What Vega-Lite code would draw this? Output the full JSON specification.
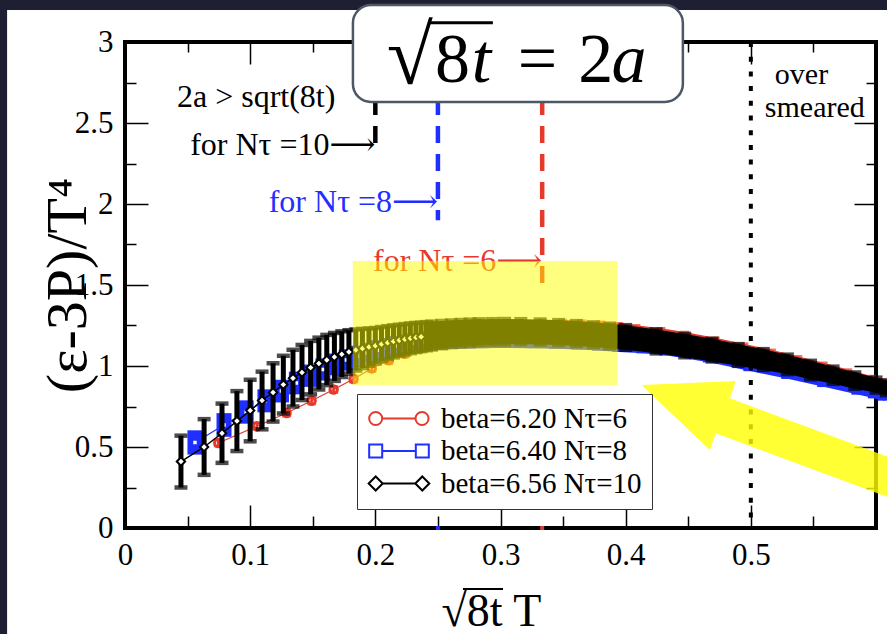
{
"$schema": "https://vega.github.io/schema/vega-lite/v6.json",
"width": 751, "height": 486,
"autosize": "none",
"padding": {"left": 125, "top": 42, "right": 11, "bottom": 106},
"background": "white",
"config": {
  "font": "Liberation Serif",
  "view": {"stroke": "black", "strokeWidth": 4, "fill": "white"},
  "axis": {"labelFont": "Liberation Serif", "labelFontSize": 31, "labelColor": "black", "tickColor": "black", "tickWidth": 1.5, "titleFont": "Liberation Serif", "titleColor": "black", "titleFontWeight": "normal", "grid": false, "domain": false, "labelFlush": false, "labelOverlap": false, "labelBound": false, "zindex": 0}
},
"data": {"values": [{}]},
"datasets": {
  "pts": [
    {"s":"r","x":0.0745,"y":0.525,"e":0.02},
    {"s":"r","x":0.1054,"y":0.628,"e":0.02},
    {"s":"r","x":0.1291,"y":0.71,"e":0.02},
    {"s":"r","x":0.1491,"y":0.785,"e":0.02},
    {"s":"r","x":0.1667,"y":0.855,"e":0.02},
    {"s":"r","x":0.1826,"y":0.92,"e":0.02},
    {"s":"r","x":0.1972,"y":0.985,"e":0.02},
    {"s":"r","x":0.2108,"y":1.035,"e":0.02},
    {"s":"r","x":0.2236,"y":1.075,"e":0.02},
    {"s":"r","x":0.2357,"y":1.11,"e":0.025},
    {"s":"r","x":0.2472,"y":1.14,"e":0.03},
    {"s":"r","x":0.2582,"y":1.165,"e":0.03},
    {"s":"r","x":0.2687,"y":1.187,"e":0.03},
    {"s":"r","x":0.2789,"y":1.205,"e":0.03},
    {"s":"r","x":0.2887,"y":1.22,"e":0.03},
    {"s":"r","x":0.2981,"y":1.232,"e":0.03},
    {"s":"r","x":0.3162,"y":1.245,"e":0.03},
    {"s":"r","x":0.3333,"y":1.252,"e":0.03},
    {"s":"r","x":0.3496,"y":1.254,"e":0.03},
    {"s":"r","x":0.3651,"y":1.25,"e":0.03},
    {"s":"r","x":0.3801,"y":1.243,"e":0.03},
    {"s":"r","x":0.3944,"y":1.234,"e":0.03},
    {"s":"r","x":0.4082,"y":1.222,"e":0.03},
    {"s":"r","x":0.4282,"y":1.203,"e":0.03},
    {"s":"r","x":0.4472,"y":1.18,"e":0.03},
    {"s":"r","x":0.4714,"y":1.145,"e":0.03},
    {"s":"r","x":0.4944,"y":1.108,"e":0.03},
    {"s":"r","x":0.5164,"y":1.07,"e":0.03},
    {"s":"r","x":0.5375,"y":1.03,"e":0.03},
    {"s":"r","x":0.5578,"y":0.99,"e":0.03},
    {"s":"r","x":0.5774,"y":0.948,"e":0.03},
    {"s":"r","x":0.5963,"y":0.908,"e":0.03},
    {"s":"r","x":0.6055,"y":0.888,"e":0.03},
    {"s":"b","x":0.0559,"y":0.528,"e":0.075},
    {"s":"b","x":0.0791,"y":0.636,"e":0.073},
    {"s":"b","x":0.0968,"y":0.716,"e":0.072},
    {"s":"b","x":0.1118,"y":0.785,"e":0.071},
    {"s":"b","x":0.125,"y":0.845,"e":0.07},
    {"s":"b","x":0.1369,"y":0.895,"e":0.07},
    {"s":"b","x":0.1479,"y":0.94,"e":0.069},
    {"s":"b","x":0.1581,"y":0.978,"e":0.068},
    {"s":"b","x":0.1677,"y":1.01,"e":0.067},
    {"s":"b","x":0.1768,"y":1.037,"e":0.066},
    {"s":"b","x":0.1854,"y":1.06,"e":0.065},
    {"s":"b","x":0.1936,"y":1.08,"e":0.064},
    {"s":"b","x":0.2016,"y":1.097,"e":0.063},
    {"s":"b","x":0.2092,"y":1.111,"e":0.062},
    {"s":"b","x":0.2165,"y":1.123,"e":0.062},
    {"s":"b","x":0.2236,"y":1.133,"e":0.061},
    {"s":"b","x":0.2305,"y":1.141,"e":0.061},
    {"s":"b","x":0.2372,"y":1.148,"e":0.06},
    {"s":"b","x":0.2437,"y":1.154,"e":0.06},
    {"s":"b","x":0.25,"y":1.159,"e":0.06},
    {"s":"b","x":0.2622,"y":1.165,"e":0.06},
    {"s":"b","x":0.2739,"y":1.168,"e":0.06},
    {"s":"b","x":0.285,"y":1.17,"e":0.06},
    {"s":"b","x":0.2958,"y":1.171,"e":0.06},
    {"s":"b","x":0.3062,"y":1.171,"e":0.06},
    {"s":"b","x":0.326,"y":1.17,"e":0.06},
    {"s":"b","x":0.3446,"y":1.167,"e":0.06},
    {"s":"b","x":0.3623,"y":1.162,"e":0.06},
    {"s":"b","x":0.3791,"y":1.155,"e":0.06},
    {"s":"b","x":0.3953,"y":1.147,"e":0.06},
    {"s":"b","x":0.4146,"y":1.138,"e":0.06},
    {"s":"b","x":0.433,"y":1.125,"e":0.06},
    {"s":"b","x":0.4677,"y":1.082,"e":0.06},
    {"s":"b","x":0.5,"y":1.028,"e":0.06},
    {"s":"b","x":0.5303,"y":0.98,"e":0.06},
    {"s":"b","x":0.559,"y":0.93,"e":0.06},
    {"s":"b","x":0.5863,"y":0.883,"e":0.06},
    {"s":"b","x":0.5995,"y":0.86,"e":0.06},
    {"s":"b","x":0.6072,"y":0.846,"e":0.06},
    {"s":"k","x":0.0447,"y":0.41,"e":0.16},
    {"s":"k","x":0.0632,"y":0.5,"e":0.172},
    {"s":"k","x":0.0775,"y":0.585,"e":0.183},
    {"s":"k","x":0.0894,"y":0.66,"e":0.185},
    {"s":"k","x":0.1,"y":0.725,"e":0.19},
    {"s":"k","x":0.1095,"y":0.787,"e":0.178},
    {"s":"k","x":0.1183,"y":0.837,"e":0.18},
    {"s":"k","x":0.1265,"y":0.885,"e":0.178},
    {"s":"k","x":0.1342,"y":0.925,"e":0.175},
    {"s":"k","x":0.1414,"y":0.96,"e":0.17},
    {"s":"k","x":0.1483,"y":0.99,"e":0.165},
    {"s":"k","x":0.1549,"y":1.015,"e":0.16},
    {"s":"k","x":0.1612,"y":1.037,"e":0.155},
    {"s":"k","x":0.1673,"y":1.056,"e":0.148},
    {"s":"k","x":0.1732,"y":1.073,"e":0.141},
    {"s":"k","x":0.1789,"y":1.087,"e":0.134},
    {"s":"k","x":0.1844,"y":1.099,"e":0.127},
    {"s":"k","x":0.1897,"y":1.108,"e":0.121},
    {"s":"k","x":0.1949,"y":1.117,"e":0.115},
    {"s":"k","x":0.2,"y":1.125,"e":0.11},
    {"s":"k","x":0.2049,"y":1.135,"e":0.106},
    {"s":"k","x":0.2098,"y":1.144,"e":0.102},
    {"s":"k","x":0.2145,"y":1.152,"e":0.099},
    {"s":"k","x":0.2191,"y":1.159,"e":0.096},
    {"s":"k","x":0.2236,"y":1.165,"e":0.094},
    {"s":"k","x":0.228,"y":1.171,"e":0.092},
    {"s":"k","x":0.2324,"y":1.176,"e":0.09},
    {"s":"k","x":0.2366,"y":1.18,"e":0.088},
    {"s":"k","x":0.2408,"y":1.184,"e":0.087},
    {"s":"k","x":0.2449,"y":1.188,"e":0.086},
    {"s":"k","x":0.253,"y":1.194,"e":0.084},
    {"s":"k","x":0.2608,"y":1.199,"e":0.082},
    {"s":"k","x":0.2683,"y":1.203,"e":0.081},
    {"s":"k","x":0.2757,"y":1.206,"e":0.08},
    {"s":"k","x":0.2828,"y":1.209,"e":0.079},
    {"s":"k","x":0.2933,"y":1.211,"e":0.078},
    {"s":"k","x":0.3033,"y":1.212,"e":0.078},
    {"s":"k","x":0.3162,"y":1.212,"e":0.077},
    {"s":"k","x":0.3317,"y":1.21,"e":0.077},
    {"s":"k","x":0.3464,"y":1.206,"e":0.077},
    {"s":"k","x":0.3606,"y":1.2,"e":0.077},
    {"s":"k","x":0.3742,"y":1.193,"e":0.076},
    {"s":"k","x":0.3873,"y":1.185,"e":0.076},
    {"s":"k","x":0.4,"y":1.176,"e":0.076},
    {"s":"k","x":0.4243,"y":1.152,"e":0.074},
    {"s":"k","x":0.4472,"y":1.126,"e":0.072},
    {"s":"k","x":0.469,"y":1.098,"e":0.07},
    {"s":"k","x":0.4899,"y":1.068,"e":0.067},
    {"s":"k","x":0.5099,"y":1.04,"e":0.064},
    {"s":"k","x":0.5292,"y":1.01,"e":0.06},
    {"s":"k","x":0.5477,"y":0.975,"e":0.057},
    {"s":"k","x":0.5657,"y":0.943,"e":0.053},
    {"s":"k","x":0.5831,"y":0.91,"e":0.05},
    {"s":"k","x":0.6,"y":0.882,"e":0.046},
    {"s":"k","x":0.6083,"y":0.865,"e":0.045}
  ],
  "arrow": [
    {"i":1,"x":0.4127,"y":0.8827},
    {"i":2,"x":0.488,"y":0.9074},
    {"i":3,"x":0.4832,"y":0.8006},
    {"i":4,"x":0.615,"y":0.4235},
    {"i":5,"x":0.615,"y":0.1759},
    {"i":6,"x":0.472,"y":0.5846},
    {"i":7,"x":0.4673,"y":0.4815}
  ]
},
"layer": [
  {"layer": [
    {"mark": {"type": "rect", "color": "#1f1f33"},
     "encoding": {
       "x": {"datum": -0.12, "type": "quantitative",
             "scale": {"domain": [0, 0.6], "nice": false, "zero": false},
             "axis": {"values": [0,0.05,0.1,0.15,0.2,0.25,0.3,0.35,0.4,0.45,0.5,0.55],
                      "labelExpr": "abs(datum.value*10-round(datum.value*10))<0.001 ? format(datum.value,'~g') : ''",
                      "tickSize": {"condition": {"test": "abs(datum.value*10-round(datum.value*10))<0.001", "value": -23}, "value": -12},
                      "labelPadding": 35,
                      "title": "√8t T", "titleFontSize": 46, "titleX": 366, "titleY": 97, "titleBaseline": "alphabetic", "titleAlign": "center", "titleAnchor": "start"}},
       "x2": {"datum": -0.0942},
       "y": {"datum": -1, "type": "quantitative",
             "scale": {"domain": [0, 3], "nice": false, "zero": false},
             "axis": {"values": [0,0.25,0.5,0.75,1,1.25,1.5,1.75,2,2.25,2.5,2.75,3],
                      "labelExpr": "abs(datum.value*2-round(datum.value*2))<0.001 ? format(datum.value,'~g') : ''",
                      "tickSize": {"condition": {"test": "abs(datum.value*2-round(datum.value*2))<0.001", "value": -23}, "value": -11},
                      "labelPadding": 35,
                      "title": "(ε-3P)/T⁴", "titleFontSize": 58, "titleX": -28, "titleY": 243, "titleAngle": -90, "titleBaseline": "bottom", "titleAlign": "center"}},
       "y2": {"datum": 3.6}}},
    {"mark": {"type": "rect", "color": "#1f1f33"},
     "encoding": {"x": {"datum": -0.12}, "x2": {"datum": 0.72}, "y": {"datum": 3.198}, "y2": {"datum": 3.6}}},

    {"data": {"name": "pts"}, "transform": [{"filter": "datum.s==='r'"}],
     "mark": {"type": "errorbar", "color": "#e53a2b", "ticks": {"size": 9, "thickness": 2.5}, "rule": {"strokeWidth": 2.5}},
     "encoding": {"x": {"field": "x", "type": "quantitative", "title": "√8t T"}, "y": {"field": "y", "type": "quantitative", "title": "(ε-3P)/T⁴"}, "yError": {"field": "e"}}},
    {"data": {"name": "pts"}, "transform": [{"filter": "datum.s==='r' && datum.x>=0.24"}],
     "mark": {"type": "errorband", "color": "#e53a2b", "opacity": 1, "band": {"opacity": 1}},
     "encoding": {"x": {"field": "x", "type": "quantitative", "title": "√8t T"}, "y": {"field": "y", "type": "quantitative", "title": "(ε-3P)/T⁴"}, "yError": {"field": "e"}}},
    {"data": {"name": "pts"}, "transform": [{"filter": "datum.s==='r'"}],
     "mark": {"type": "line", "color": "#e53a2b", "strokeWidth": 1.2},
     "encoding": {"x": {"field": "x", "type": "quantitative", "title": "√8t T"}, "y": {"field": "y", "type": "quantitative", "title": "(ε-3P)/T⁴"}}},
    {"data": {"name": "pts"}, "transform": [{"filter": "datum.s==='r' && datum.x<0.24"}],
     "mark": {"type": "point", "shape": "circle", "filled": false, "size": 55, "strokeWidth": 3, "color": "#e53a2b", "opacity": 1},
     "encoding": {"x": {"field": "x", "type": "quantitative", "title": "√8t T"}, "y": {"field": "y", "type": "quantitative", "title": "(ε-3P)/T⁴"}}},

    {"data": {"name": "pts"}, "transform": [{"filter": "datum.s==='b'"}],
     "mark": {"type": "errorbar", "color": "#1f2fff", "rule": {"strokeWidth": 15}},
     "encoding": {"x": {"field": "x", "type": "quantitative", "title": "√8t T"}, "y": {"field": "y", "type": "quantitative", "title": "(ε-3P)/T⁴"}, "yError": {"field": "e"}}},
    {"data": {"name": "pts"}, "transform": [{"filter": "datum.s==='b' && datum.x>=0.24"}],
     "mark": {"type": "errorband", "color": "#1f2fff", "opacity": 1, "band": {"opacity": 1}},
     "encoding": {"x": {"field": "x", "type": "quantitative", "title": "√8t T"}, "y": {"field": "y", "type": "quantitative", "title": "(ε-3P)/T⁴"}, "yError": {"field": "e"}}},
    {"data": {"name": "pts"}, "transform": [{"filter": "datum.s==='b'"}],
     "mark": {"type": "line", "color": "#1f2fff", "strokeWidth": 1.2},
     "encoding": {"x": {"field": "x", "type": "quantitative", "title": "√8t T"}, "y": {"field": "y", "type": "quantitative", "title": "(ε-3P)/T⁴"}}},
    {"data": {"name": "pts"}, "transform": [{"filter": "datum.s==='b' && datum.x<0.24"}],
     "mark": {"type": "point", "shape": "square", "filled": true, "fill": "white", "stroke": "#1f2fff", "size": 30, "strokeWidth": 2, "opacity": 1},
     "encoding": {"x": {"field": "x", "type": "quantitative", "title": "√8t T"}, "y": {"field": "y", "type": "quantitative", "title": "(ε-3P)/T⁴"}}},

    {"data": {"name": "pts"}, "transform": [{"filter": "datum.s==='k'"}],
     "mark": {"type": "errorbar", "color": "black", "ticks": {"size": 13, "thickness": 4.5}, "rule": {"strokeWidth": 5}},
     "encoding": {"x": {"field": "x", "type": "quantitative", "title": "√8t T"}, "y": {"field": "y", "type": "quantitative", "title": "(ε-3P)/T⁴"}, "yError": {"field": "e"}}},
    {"data": {"name": "pts"}, "transform": [{"filter": "datum.s==='k' && datum.x>=0.24"}],
     "mark": {"type": "errorband", "color": "black", "opacity": 1, "band": {"opacity": 1}},
     "encoding": {"x": {"field": "x", "type": "quantitative", "title": "√8t T"}, "y": {"field": "y", "type": "quantitative", "title": "(ε-3P)/T⁴"}, "yError": {"field": "e"}}},
    {"data": {"name": "pts"}, "transform": [{"filter": "datum.s==='k'"}],
     "mark": {"type": "line", "color": "black", "strokeWidth": 1.5},
     "encoding": {"x": {"field": "x", "type": "quantitative", "title": "√8t T"}, "y": {"field": "y", "type": "quantitative", "title": "(ε-3P)/T⁴"}}},
    {"data": {"name": "pts"}, "transform": [{"filter": "datum.s==='k' && datum.x<0.24"}],
     "mark": {"type": "point", "shape": "diamond", "filled": true, "fill": "white", "stroke": "black", "size": 70, "strokeWidth": 2, "opacity": 1},
     "encoding": {"x": {"field": "x", "type": "quantitative", "title": "√8t T"}, "y": {"field": "y", "type": "quantitative", "title": "(ε-3P)/T⁴"}}},

    {"mark": {"type": "rule", "color": "black", "strokeWidth": 4.5, "strokeDash": [17, 11]},
     "encoding": {"x": {"datum": 0.2}, "y": {"datum": 3}, "y2": {"datum": 2.31}}},
    {"mark": {"type": "rule", "color": "#1f2fff", "strokeWidth": 4.5, "strokeDash": [17, 11]},
     "encoding": {"x": {"datum": 0.25}, "y": {"datum": 3}, "y2": {"datum": 1.9}}},
    {"mark": {"type": "rule", "color": "#e53a2b", "strokeWidth": 4.5, "strokeDash": [17, 11]},
     "encoding": {"x": {"datum": 0.3333}, "y": {"datum": 3}, "y2": {"datum": 1.5}}},
    {"mark": {"type": "rule", "color": "black", "strokeWidth": 4, "strokeDash": [5, 9.7]},
     "encoding": {"x": {"datum": 0.5}, "y": {"datum": 3}, "y2": {"datum": 0}}},
    {"mark": {"type": "point", "shape": "square", "filled": true, "size": 16, "color": "black", "opacity": 1},
     "encoding": {"x": {"datum": 0.2}, "y": {"datum": 0}}},
    {"mark": {"type": "point", "shape": "square", "filled": true, "size": 16, "color": "#1f2fff", "opacity": 1},
     "encoding": {"x": {"datum": 0.25}, "y": {"datum": 0}}},
    {"mark": {"type": "point", "shape": "square", "filled": true, "size": 16, "color": "#e53a2b", "opacity": 1},
     "encoding": {"x": {"datum": 0.3333}, "y": {"datum": 0}}},

    {"mark": {"type": "text", "text": "2a > sqrt(8t)", "fontSize": 32, "align": "left", "baseline": "alphabetic", "color": "black"},
     "encoding": {"x": {"datum": 0.0415}, "y": {"datum": 2.599}}},
    {"mark": {"type": "text", "text": "for Nτ =10⟶", "font": "Liberation Serif, DejaVu Serif, DejaVu Sans", "fontSize": 32, "align": "right", "baseline": "alphabetic", "color": "black"},
     "encoding": {"x": {"datum": 0.2}, "y": {"datum": 2.302}}},
    {"mark": {"type": "text", "text": "for Nτ =8⟶", "font": "Liberation Serif, DejaVu Serif, DejaVu Sans", "fontSize": 32, "align": "right", "baseline": "alphabetic", "color": "#1f2fff"},
     "encoding": {"x": {"datum": 0.25}, "y": {"datum": 1.951}}},
    {"mark": {"type": "text", "text": "for Nτ =6⟶", "font": "Liberation Serif, DejaVu Serif, DejaVu Sans", "fontSize": 32, "align": "right", "baseline": "alphabetic", "color": "#e53a2b"},
     "encoding": {"x": {"datum": 0.3333}, "y": {"datum": 1.586}}},
    {"mark": {"type": "text", "text": "over", "fontSize": 30, "align": "center", "baseline": "alphabetic", "color": "black"},
     "encoding": {"x": {"datum": 0.5405}, "y": {"datum": 2.74}}},
    {"mark": {"type": "text", "text": "smeared", "fontSize": 30, "align": "center", "baseline": "alphabetic", "color": "black"},
     "encoding": {"x": {"datum": 0.5511}, "y": {"datum": 2.535}}},

    {"mark": {"type": "rect", "color": "#ffff00", "opacity": 0.5},
     "encoding": {"x": {"datum": 0.182}, "x2": {"datum": 0.3935}, "y": {"datum": 1.648}, "y2": {"datum": 0.8827}}},
    {"data": {"name": "arrow"},
     "mark": {"type": "line", "fill": "#ffff00", "fillOpacity": 0.8, "stroke": "transparent", "strokeWidth": 0, "interpolate": "linear-closed"},
     "encoding": {"x": {"field": "x", "type": "quantitative", "title": "√8t T"}, "y": {"field": "y", "type": "quantitative", "title": "(ε-3P)/T⁴"}, "order": {"field": "i", "type": "quantitative"}}},

    {"mark": {"type": "rect", "fill": "white", "stroke": "#4d5866", "strokeWidth": 2.5, "cornerRadius": 18},
     "encoding": {"x": {"datum": 0.1821}, "x2": {"datum": 0.4457}, "y": {"datum": 3.228}, "y2": {"datum": 2.63}}},
    {"mark": {"type": "text", "text": "√", "fontSize": 84, "align": "center", "baseline": "alphabetic", "color": "black"},
     "encoding": {"x": {"datum": 0.2276}, "y": {"datum": 2.74}}},
    {"mark": {"type": "rule", "color": "black", "strokeWidth": 3},
     "encoding": {"x": {"datum": 0.2436}, "x2": {"datum": 0.2939}, "y": {"datum": 3.119}}},
    {"mark": {"type": "text", "text": "8", "fontSize": 70, "align": "center", "baseline": "alphabetic", "color": "black"},
     "encoding": {"x": {"datum": 0.2616}, "y": {"datum": 2.755}}},
    {"mark": {"type": "text", "text": "t", "fontSize": 70, "fontStyle": "italic", "align": "center", "baseline": "alphabetic", "color": "black"},
     "encoding": {"x": {"datum": 0.2848}, "y": {"datum": 2.755}}},
    {"mark": {"type": "text", "text": "=", "fontSize": 70, "align": "center", "baseline": "alphabetic", "color": "black"},
     "encoding": {"x": {"datum": 0.3295}, "y": {"datum": 2.755}}},
    {"mark": {"type": "text", "text": "2", "fontSize": 70, "align": "center", "baseline": "alphabetic", "color": "black"},
     "encoding": {"x": {"datum": 0.376}, "y": {"datum": 2.755}}},
    {"mark": {"type": "text", "text": "a", "fontSize": 70, "fontStyle": "italic", "align": "center", "baseline": "alphabetic", "color": "black"},
     "encoding": {"x": {"datum": 0.4026}, "y": {"datum": 2.755}}},
    {"mark": {"type": "rule", "color": "black", "strokeWidth": 2},
     "encoding": {"x": {"datum": 0.27}, "x2": {"datum": 0.302}, "y": {"datum": -0.3765}}},

    {"data": {"values": [{"s": "beta=6.20 Nτ=6"}, {"s": "beta=6.40 Nτ=8"}, {"s": "beta=6.56 Nτ=10"}]},
     "transform": [{"filter": "false"}],
     "mark": {"type": "point", "filled": false, "strokeWidth": 2},
     "encoding": {
       "color": {"field": "s", "type": "nominal",
                 "scale": {"domain": ["beta=6.20 Nτ=6", "beta=6.40 Nτ=8", "beta=6.56 Nτ=10"], "range": ["#e53a2b", "#1f2fff", "black"]},
                 "legend": {"orient": "none", "legendX": 232, "legendY": 352, "title": null, "labelFont": "Liberation Serif", "labelFontSize": 29, "labelColor": "black", "labelLimit": 0, "symbolSize": 196, "symbolStrokeWidth": 2, "symbolOpacity": 1, "labelOffset": 45, "padding": 10, "rowPadding": 2.5, "strokeColor": "#333", "fillColor": "white"}},
       "shape": {"field": "s", "type": "nominal",
                 "scale": {"domain": ["beta=6.20 Nτ=6", "beta=6.40 Nτ=8", "beta=6.56 Nτ=10"],
                           "range": ["M-1.76,0 A0.93,0.93 0 1,1 0.1,0 A0.93,0.93 0 1,1 -1.76,0 M0.1,0 L4.86,0 M4.86,0 A0.93,0.93 0 1,1 6.72,0 A0.93,0.93 0 1,1 4.86,0",
                                     "M-1.76,-0.93 L0.1,-0.93 L0.1,0.93 L-1.76,0.93 Z M0.1,0 L4.9,0 M4.9,-0.93 L6.76,-0.93 L6.76,0.93 L4.9,0.93 Z",
                                     "M-1.83,0 L-0.83,-1 L0.17,0 L-0.83,1 Z M0.17,0 L4.83,0 M4.83,0 L5.83,-1 L6.83,0 L5.83,1 Z"]}}}}
  ]},
  {"mark": {"type": "point", "opacity": 0},
   "encoding": {
     "x": {"datum": 0, "type": "quantitative", "scale": {"domain": [0, 0.6], "nice": false, "zero": false},
           "axis": {"orient": "top", "values": [0,0.05,0.1,0.15,0.2,0.25,0.3,0.35,0.4,0.45,0.5,0.55], "labels": false, "title": null,
                    "tickSize": {"condition": {"test": "abs(datum.value*10-round(datum.value*10))<0.001", "value": -22}, "value": -10}}},
     "y": {"datum": 0, "type": "quantitative", "scale": {"domain": [0, 3], "nice": false, "zero": false},
           "axis": {"orient": "right", "values": [0,0.25,0.5,0.75,1,1.25,1.5,1.75,2,2.25,2.5,2.75,3], "labels": false, "title": null,
                    "tickSize": {"condition": {"test": "abs(datum.value*2-round(datum.value*2))<0.001", "value": -22}, "value": -10}}}}}
],
"resolve": {"axis": {"x": "independent", "y": "independent"}}
}
